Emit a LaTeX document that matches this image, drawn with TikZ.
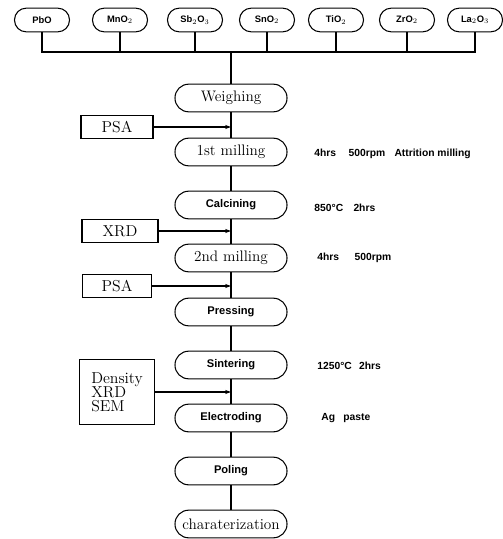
\documentclass[tikz,border=0pt]{standalone}
\usepackage{fontspec}
\newfontfamily\labelfont{Liberation Sans}
\usetikzlibrary{arrows.meta,positioning,calc}

\begin{document}
\begin{tikzpicture}[
  x=0.03cm, y=-0.03cm, line width=0.9pt,
  oxide/.style={draw, rounded corners=0.35cm, minimum width=1.65cm,
    minimum height=0.71cm, font=\labelfont\bfseries\fontsize{8}{9}\selectfont},
  stage/.style={draw, rounded corners=0.41cm, minimum width=3.36cm,
    minimum height=0.83cm, font=\fontsize{13}{15}\selectfont},
  bstage/.style={stage, font=\labelfont\bfseries\fontsize{9.5}{11}\selectfont},
  test/.style={draw, minimum height=0.69cm, font=\fontsize{13.5}{15}\selectfont,
    align=left},
  note/.style={anchor=west, font=\labelfont\bfseries\fontsize{8.8}{10}\selectfont},
  >={Stealth[length=5pt,width=3.5pt]},
]
\useasboundingbox (0,0) rectangle (502,539);
% raw materials
\node[oxide] (pbo) at (42,20) {PbO};
\node[oxide] (mno) at (120,20) {MnO$_2$};
\node[oxide] (sbo) at (195,20) {Sb$_2$O$_3$};
\node[oxide] (sno) at (267,20) {SnO$_2$};
\node[oxide] (tio) at (336,20) {TiO$_2$};
\node[oxide] (zro) at (407,20) {ZrO$_2$};
\node[oxide] (lao) at (475,20) {La$_2$O$_3$};
\coordinate (bus) at (231,52);
\draw (pbo.south) -- (pbo.south |- bus) -- (lao.south |- bus) -- (lao.south);
\draw (mno.south) -- (mno.south |- bus);
\draw (sbo.south) -- (sbo.south |- bus);
\draw (sno.south) -- (sno.south |- bus);
\draw (tio.south) -- (tio.south |- bus);
\draw (zro.south) -- (zro.south |- bus);
% process steps
\node[stage] (weigh) at (231,98) {Weighing};
\node[stage] (mill1) at (231,152) {1st milling};
\node[bstage] (calc) at (231,205) {Calcining};
\node[stage] (mill2) at (231,258) {2nd milling};
\node[bstage] (press) at (231,312) {Pressing};
\node[bstage] (sinter) at (231,365) {Sintering};
\node[bstage] (electrode) at (231,418) {Electroding};
\node[bstage] (pole) at (231,471) {Poling};
\node[stage] (charact) at (231,524) {charaterization};
\draw (bus) -- (weigh.north);
\draw (weigh) -- (mill1);
\draw (mill1) -- (calc);
\draw (calc) -- (mill2);
\draw (mill2) -- (press);
\draw (press) -- (sinter);
\draw (sinter) -- (electrode);
\draw (electrode) -- (pole);
\draw (pole) -- (charact);
% measurements
\node[test, minimum width=2.16cm] (psa1) at (117,127) {PSA};
\node[test, minimum width=2.28cm] (xrd) at (120,231) {XRD};
\node[test, minimum width=2.07cm] (psa2) at (117,286) {PSA};
\node[test, minimum width=2.25cm, minimum height=1.95cm] (dens) at (117,392)
  {Density\\[-3pt]XRD\\[-3pt]SEM};
\draw[->] (psa1.east) -- (psa1.east -| weigh);
\draw[->] (xrd.east) -- (xrd.east -| calc);
\draw[->] (psa2.east) -- (psa2.east -| mill2);
\draw[->] (dens.east) -- (dens.east -| sinter);
% conditions
\node[note] (c1) at (310,154) {4hrs\hspace{1.2em}500rpm\hspace{0.9em}Attrition milling};
\node[note] (c2) at (310,208) {850°C\hspace{1em}2hrs};
\node[note] (c3) at (313,258) {4hrs\hspace{1.5em}500rpm};
\node[note] (c4) at (313,366) {1250°C\hspace{0.7em}2hrs};
\node[note] (c5) at (317,418) {Ag\hspace{0.8em}paste};
\end{tikzpicture}
\end{document}
